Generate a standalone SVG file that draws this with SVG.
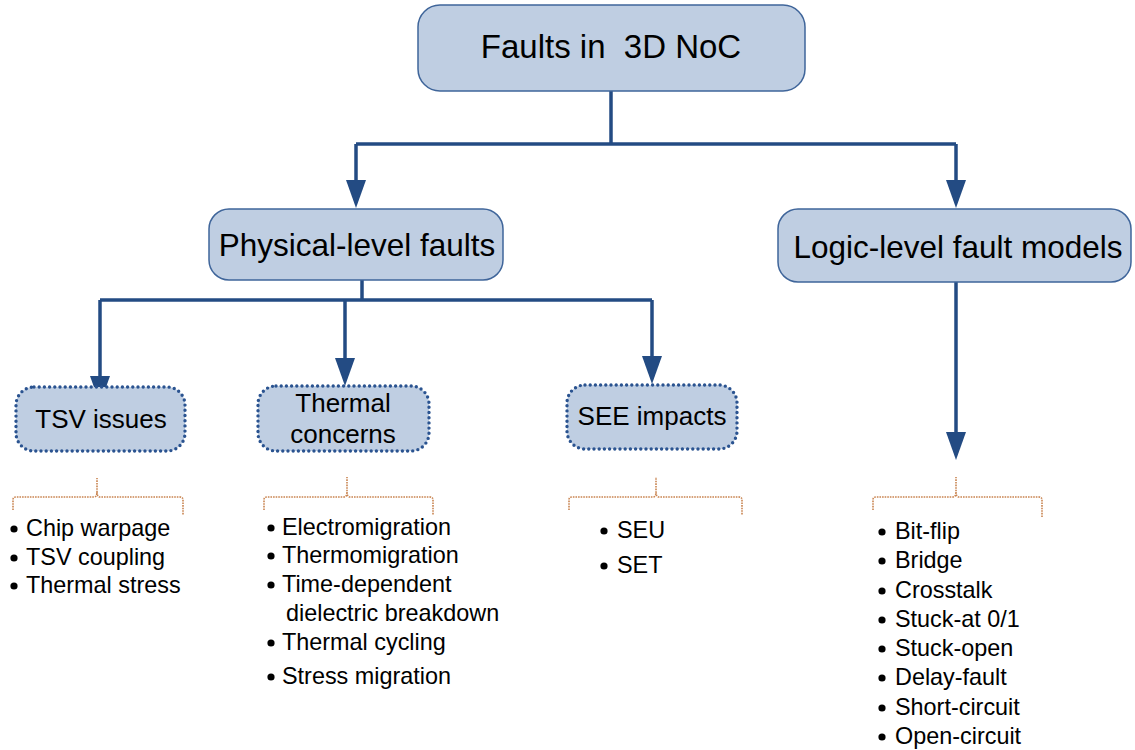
<svg xmlns="http://www.w3.org/2000/svg" width="1135" height="750" viewBox="0 0 1135 750">
<style>
text{font-family:"Liberation Sans",Arial,sans-serif;fill:#000}
.box{fill:#bfcee2;stroke:#3f659a;stroke-width:1.5}
.dbox{fill:#bfcee2;stroke:#2a5390;stroke-width:3.4;stroke-dasharray:0 5.2;stroke-linecap:round}
.conn{fill:none;stroke:#234b83;stroke-width:3.5}
.brace{fill:none;stroke:#c98450;stroke-width:1.6;stroke-dasharray:1.6 1}
.t1{font-size:33px;text-anchor:middle}
.t2{font-size:31.5px;text-anchor:middle}
.t3{font-size:26px;text-anchor:middle}
.li{font-size:23.4px}
.b{fill:#000}
</style>
<defs>
<marker id="ah" markerUnits="userSpaceOnUse" viewBox="0 0 28 20" markerWidth="28" markerHeight="20" refX="0" refY="10" orient="auto">
<path d="M0,0 L28,10 L0,20 z" fill="#234b83"/>
</marker>
</defs>

<g id="connectors">
<path class="conn" d="M611,91 V144"/>
<path class="conn" d="M356,144 H956"/>
<path class="conn" d="M356,144 V180" marker-end="url(#ah)"/>
<path class="conn" d="M956,144 V180" marker-end="url(#ah)"/>
<path class="conn" d="M362,280 V300"/>
<path class="conn" d="M100,300 H652"/>
<path class="conn" d="M100,300 V376" marker-end="url(#ah)"/>
<path class="conn" d="M345,300 V358" marker-end="url(#ah)"/>
<path class="conn" d="M652,300 V356" marker-end="url(#ah)"/>
<path class="conn" d="M956,282 V432" marker-end="url(#ah)"/>
</g>

<g id="root">
<rect class="box" x="418" y="5" width="387" height="86" rx="22"/>
<text class="t1" x="611" y="58" xml:space="preserve">Faults in  3D NoC</text>
</g>

<g id="physical">
<rect class="box" x="209" y="209" width="294" height="71" rx="20"/>
<text class="t2" x="357" y="256">Physical-level faults</text>
</g>

<g id="logic">
<rect class="box" x="778" y="209" width="353" height="73" rx="20"/>
<text class="t2" x="958" y="258">Logic-level fault models</text>
</g>

<g id="tsv">
<rect class="dbox" x="16" y="387" width="169" height="64" rx="18"/>
<text class="t3" x="101" y="428">TSV issues</text>
</g>

<g id="thermal">
<rect class="dbox" x="258" y="386" width="171" height="65" rx="18"/>
<text class="t3" x="343" y="412">Thermal</text>
<text class="t3" x="343" y="443">concerns</text>
</g>

<g id="see">
<rect class="dbox" x="567" y="385" width="170" height="64" rx="18"/>
<text class="t3" x="652" y="425">SEE impacts</text>
</g>

<g id="braces">
<path class="brace" d="M13,510 V500 Q13,497 16,497 H94 Q97,497 97,492 V478 M97,492 Q97,497 100,497 H180 Q183,497 183,500 V515"/>
<path class="brace" d="M264,510 V500 Q264,497 267,497 H344 Q347,497 347,492 V477 M347,492 Q347,497 350,497 H430 Q433,497 433,500 V515"/>
<path class="brace" d="M569,510 V500 Q569,497 572,497 H653 Q656,497 656,492 V477 M656,492 Q656,497 659,497 H739 Q742,497 742,500 V515"/>
<path class="brace" d="M873,510 V500 Q873,497 876,497 H953 Q956,497 956,492 V477 M956,492 Q956,497 959,497 H1039 Q1042,497 1042,500 V518"/>
</g>

<g id="tsv-list">
<circle class="b" cx="14" cy="529" r="3.6"/><text class="li" x="26" y="536">Chip warpage</text>
<circle class="b" cx="14" cy="558" r="3.6"/><text class="li" x="26" y="565">TSV coupling</text>
<circle class="b" cx="14" cy="586" r="3.6"/><text class="li" x="26" y="593">Thermal stress</text>
</g>

<g id="thermal-list">
<circle class="b" cx="271" cy="528" r="3.6"/><text class="li" x="282" y="535">Electromigration</text>
<circle class="b" cx="271" cy="556" r="3.6"/><text class="li" x="282" y="563">Thermomigration</text>
<circle class="b" cx="271" cy="585" r="3.6"/><text class="li" x="282" y="592">Time-dependent</text>
<text class="li" x="286" y="621">dielectric breakdown</text>
<circle class="b" cx="271" cy="643" r="3.6"/><text class="li" x="282" y="650">Thermal cycling</text>
<circle class="b" cx="271" cy="677" r="3.6"/><text class="li" x="282" y="684">Stress migration</text>
</g>

<g id="see-list">
<circle class="b" cx="604" cy="531" r="3.6"/><text class="li" x="617" y="538">SEU</text>
<circle class="b" cx="604" cy="566" r="3.6"/><text class="li" x="617" y="573">SET</text>
</g>

<g id="logic-list">
<circle class="b" cx="882" cy="532" r="3.6"/><text class="li" x="895" y="539">Bit-flip</text>
<circle class="b" cx="882" cy="561" r="3.6"/><text class="li" x="895" y="568">Bridge</text>
<circle class="b" cx="882" cy="591" r="3.6"/><text class="li" x="895" y="598">Crosstalk</text>
<circle class="b" cx="882" cy="620" r="3.6"/><text class="li" x="895" y="627">Stuck-at 0/1</text>
<circle class="b" cx="882" cy="649" r="3.6"/><text class="li" x="895" y="656">Stuck-open</text>
<circle class="b" cx="882" cy="678" r="3.6"/><text class="li" x="895" y="685">Delay-fault</text>
<circle class="b" cx="882" cy="708" r="3.6"/><text class="li" x="895" y="715">Short-circuit</text>
<circle class="b" cx="882" cy="737" r="3.6"/><text class="li" x="895" y="744">Open-circuit</text>
</g>
</svg>
